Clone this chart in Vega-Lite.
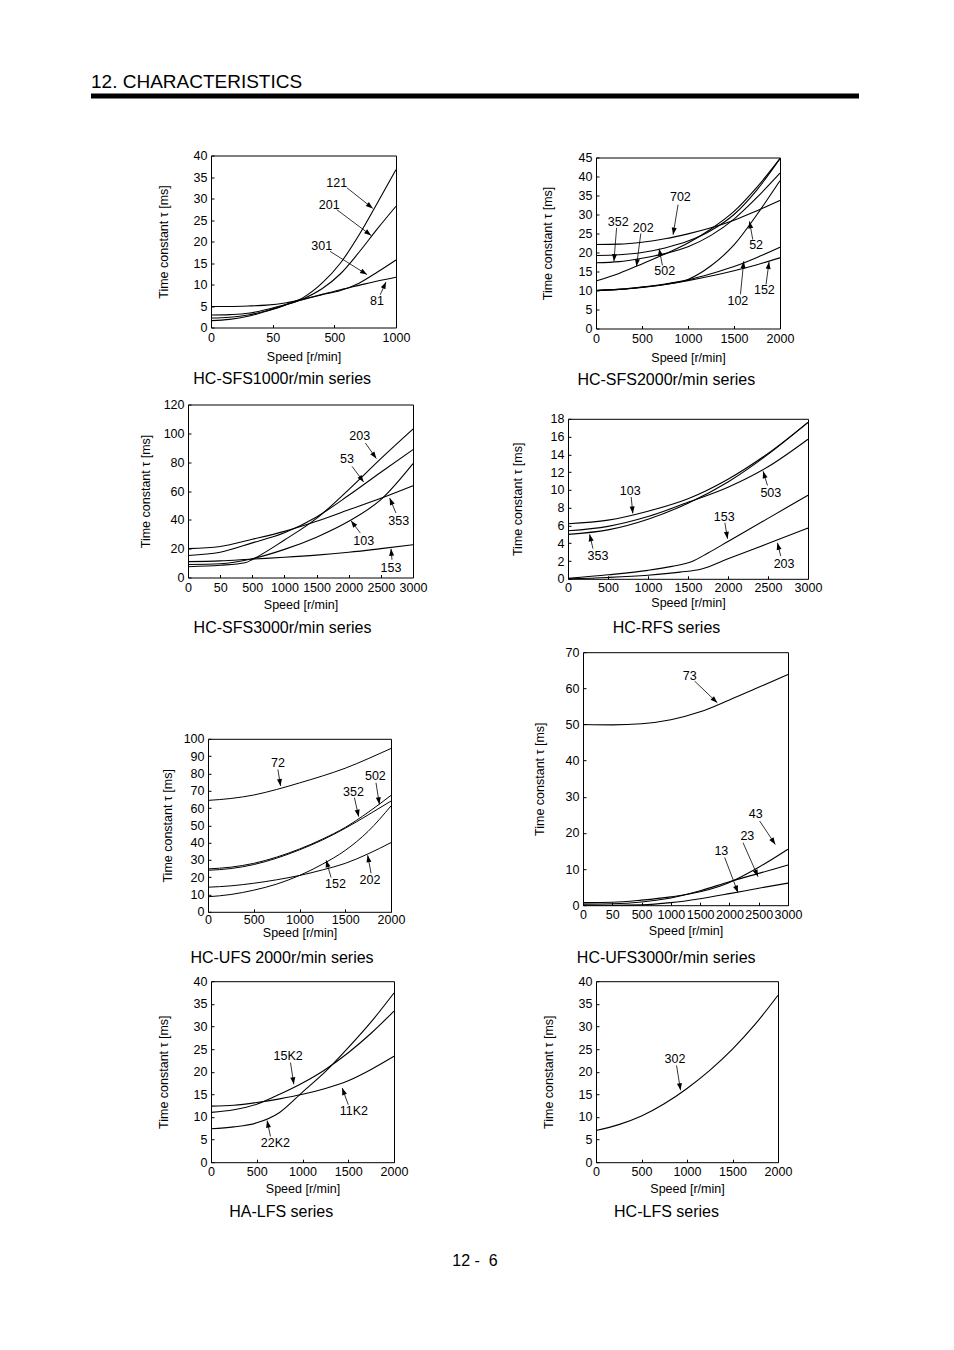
{
"$schema": "https://vega.github.io/schema/vega-lite/v6.json",
"background": "white",
"padding": {"left": 91, "top": 72.5, "right": 5, "bottom": 5},
"config": {
  "font": "Liberation Sans",
  "view": {"stroke": "black", "strokeWidth": 1},
  "axis": {"grid": false, "ticks": false, "tickSize": 0, "domain": false, "labelFont": "Liberation Sans", "labelFontSize": 12.5, "labelColor": "black", "titleFont": "Liberation Sans", "titleFontSize": 12.5, "titleFontWeight": "normal", "titleColor": "black", "labelPadding": 4, "labelFlush": false, "labelOverlap": false, "tickColor": "black", "tickWidth": 1},
  "title": {"font": "Liberation Sans", "fontSize": 16, "fontWeight": "normal", "color": "black"},
  "text": {"font": "Liberation Sans", "fontSize": 12.5, "color": "black"}
},
"title": {"text": "12 -\u00a0 6", "orient": "bottom", "anchor": "middle", "fontSize": 16, "offset": 0},
"spacing": 0,
"datasets": {
"p1c": [
{"m":"121","s":0,"t":1.6},{"m":"121","s":15,"t":1.9},{"m":"121","s":30,"t":2.6},{"m":"121","s":45,"t":3.8},{"m":"121","s":140,"t":5.2},{"m":"121","s":275,"t":7.0},{"m":"121","s":410,"t":10.3},{"m":"121","s":550,"t":15.0},{"m":"121","s":700,"t":21.5},{"m":"121","s":850,"t":29.0},{"m":"121","s":1000,"t":36.7},
{"m":"201","s":0,"t":2.2},{"m":"201","s":15,"t":2.4},{"m":"201","s":30,"t":2.9},{"m":"201","s":45,"t":3.9},{"m":"201","s":140,"t":5.2},{"m":"201","s":275,"t":6.7},{"m":"201","s":410,"t":9.0},{"m":"201","s":550,"t":12.5},{"m":"201","s":700,"t":17.5},{"m":"201","s":850,"t":23.0},{"m":"201","s":1000,"t":28.2},
{"m":"301","s":0,"t":2.9},{"m":"301","s":15,"t":3.0},{"m":"301","s":30,"t":3.3},{"m":"301","s":45,"t":4.2},{"m":"301","s":140,"t":5.3},{"m":"301","s":275,"t":6.5},{"m":"301","s":410,"t":7.6},{"m":"301","s":550,"t":8.6},{"m":"301","s":700,"t":10.3},{"m":"301","s":850,"t":12.9},{"m":"301","s":1000,"t":15.7},
{"m":"81","s":0,"t":4.9},{"m":"81","s":15,"t":4.9},{"m":"81","s":30,"t":5.0},{"m":"81","s":45,"t":5.2},{"m":"81","s":140,"t":5.7},{"m":"81","s":275,"t":6.6},{"m":"81","s":410,"t":7.7},{"m":"81","s":550,"t":8.8},{"m":"81","s":700,"t":9.8},{"m":"81","s":850,"t":10.8},{"m":"81","s":1000,"t":11.7}
],
"p1a": [
{"label":"121","lx":520,"ly":33.6,"x1":602,"y1":32.5,"x2":812,"y2":27.7},
{"label":"201","lx":463,"ly":28.4,"x1":520,"y1":27.4,"x2":799,"y2":21.4},
{"label":"301","lx":408,"ly":18.9,"x1":469,"y1":17.7,"x2":765,"y2":12.3},
{"label":"81","lx":846,"ly":6.1,"x1":872,"y1":7.6,"x2":919,"y2":10.6}
],
"p2c": [
{"m":"702","s":0,"t":22.1},{"m":"702","s":250,"t":22.2},{"m":"702","s":500,"t":22.7},{"m":"702","s":750,"t":23.6},{"m":"702","s":1000,"t":24.9},{"m":"702","s":1250,"t":26.5},{"m":"702","s":1500,"t":28.5},{"m":"702","s":1750,"t":31.0},{"m":"702","s":2000,"t":33.7},
{"m":"352","s":0,"t":17.3},{"m":"352","s":250,"t":17.6},{"m":"352","s":500,"t":18.5},{"m":"352","s":750,"t":19.7},{"m":"352","s":1000,"t":21.5},{"m":"352","s":1250,"t":24.5},{"m":"352","s":1500,"t":28.8},{"m":"352","s":1750,"t":34.5},{"m":"352","s":2000,"t":40.9},
{"m":"502","s":0,"t":19.2},{"m":"502","s":250,"t":19.4},{"m":"502","s":500,"t":20.0},{"m":"502","s":750,"t":21.2},{"m":"502","s":1000,"t":23.0},{"m":"502","s":1250,"t":25.8},{"m":"502","s":1500,"t":30.0},{"m":"502","s":1750,"t":36.5},{"m":"502","s":2000,"t":44.7},
{"m":"202","s":0,"t":12.5},{"m":"202","s":250,"t":14.5},{"m":"202","s":500,"t":17.0},{"m":"202","s":750,"t":19.6},{"m":"202","s":1000,"t":22.5},{"m":"202","s":1250,"t":26.2},{"m":"202","s":1500,"t":30.8},{"m":"202","s":1750,"t":37.2},{"m":"202","s":2000,"t":44.7},
{"m":"52","s":0,"t":10.0},{"m":"52","s":250,"t":10.3},{"m":"52","s":500,"t":10.9},{"m":"52","s":750,"t":11.6},{"m":"52","s":1000,"t":12.9},{"m":"52","s":1250,"t":16.5},{"m":"52","s":1500,"t":22.0},{"m":"52","s":1750,"t":30.0},{"m":"52","s":2000,"t":38.9},
{"m":"102","s":0,"t":10.0},{"m":"102","s":250,"t":10.3},{"m":"102","s":500,"t":10.9},{"m":"102","s":750,"t":11.7},{"m":"102","s":1000,"t":12.8},{"m":"102","s":1250,"t":14.4},{"m":"102","s":1500,"t":16.3},{"m":"102","s":1750,"t":18.7},{"m":"102","s":2000,"t":21.4},
{"m":"152","s":0,"t":10.0},{"m":"152","s":250,"t":10.3},{"m":"152","s":500,"t":10.8},{"m":"152","s":750,"t":11.6},{"m":"152","s":1000,"t":12.6},{"m":"152","s":1250,"t":13.8},{"m":"152","s":1500,"t":15.2},{"m":"152","s":1750,"t":16.8},{"m":"152","s":2000,"t":18.6}
],
"p2a": [
{"label":"702","lx":917,"ly":34.5,"x1":892,"y1":32.6,"x2":838,"y2":24.7},
{"label":"352","lx":242,"ly":28.0,"x1":224,"y1":26.5,"x2":195,"y2":17.7},
{"label":"202","lx":513,"ly":26.5,"x1":487,"y1":25.0,"x2":440,"y2":16.4},
{"label":"502","lx":747,"ly":15.1,"x1":722,"y1":16.6,"x2":686,"y2":21.0},
{"label":"52","lx":1740,"ly":21.9,"x1":1704,"y1":23.4,"x2":1668,"y2":28.2},
{"label":"102","lx":1542,"ly":7.3,"x1":1570,"y1":9.0,"x2":1606,"y2":17.7},
{"label":"152","lx":1830,"ly":10.1,"x1":1848,"y1":11.6,"x2":1881,"y2":17.5}
],
"p3c": [
{"m":"203","s":0,"t":7.5},{"m":"203","s":50,"t":8.5},{"m":"203","s":400,"t":10.2},{"m":"203","s":500,"t":12.5},{"m":"203","s":1000,"t":26},{"m":"203","s":1500,"t":41},{"m":"203","s":2000,"t":61},{"m":"203","s":2500,"t":82.5},{"m":"203","s":3000,"t":103},
{"m":"53","s":0,"t":15.3},{"m":"53","s":50,"t":17.5},{"m":"53","s":500,"t":24},{"m":"53","s":1000,"t":31},{"m":"53","s":1500,"t":42},{"m":"53","s":2000,"t":57},{"m":"53","s":2500,"t":73},{"m":"53","s":3000,"t":88.7},
{"m":"353","s":0,"t":20},{"m":"353","s":50,"t":21.5},{"m":"353","s":500,"t":26.5},{"m":"353","s":1000,"t":32},{"m":"353","s":1500,"t":39},{"m":"353","s":2000,"t":47},{"m":"353","s":2500,"t":55},{"m":"353","s":3000,"t":63.7},
{"m":"103","s":0,"t":9},{"m":"103","s":50,"t":9.5},{"m":"103","s":500,"t":13},{"m":"103","s":1000,"t":19.5},{"m":"103","s":1500,"t":28},{"m":"103","s":2000,"t":39},{"m":"103","s":2500,"t":54},{"m":"103","s":3000,"t":79},
{"m":"153","s":0,"t":11},{"m":"153","s":50,"t":11.5},{"m":"153","s":500,"t":12.8},{"m":"153","s":1000,"t":14},{"m":"153","s":1500,"t":15.5},{"m":"153","s":2000,"t":17.5},{"m":"153","s":2500,"t":20},{"m":"153","s":3000,"t":22.7}
],
"p3a": [
{"label":"203","lx":2170,"ly":98.4,"x1":2259,"y1":93.3,"x2":2430,"y2":82.5},
{"label":"53","lx":1974,"ly":82.5,"x1":2052,"y1":77.1,"x2":2233,"y2":66.2},
{"label":"353","lx":2777,"ly":39.4,"x1":2735,"y1":44.7,"x2":2637,"y2":55.1},
{"label":"103","lx":2233,"ly":25.5,"x1":2181,"y1":30.8,"x2":2036,"y2":39.4},
{"label":"153","lx":2658,"ly":6.9,"x1":2673,"y1":12.3,"x2":2658,"y2":19.9}
],
"p4c": [
{"m":"103","s":0,"t":6.2},{"m":"103","s":500,"t":6.6},{"m":"103","s":1000,"t":7.6},{"m":"103","s":1500,"t":9.0},{"m":"103","s":2000,"t":11.2},{"m":"103","s":2500,"t":14.1},{"m":"103","s":3000,"t":17.6},
{"m":"353","s":0,"t":5.0},{"m":"353","s":500,"t":5.5},{"m":"353","s":1000,"t":6.7},{"m":"353","s":1500,"t":8.5},{"m":"353","s":2000,"t":10.9},{"m":"353","s":2500,"t":14.0},{"m":"353","s":3000,"t":17.6},
{"m":"503","s":0,"t":5.4},{"m":"503","s":500,"t":5.9},{"m":"503","s":1000,"t":7.0},{"m":"503","s":1500,"t":8.6},{"m":"503","s":2000,"t":10.3},{"m":"503","s":2500,"t":12.6},{"m":"503","s":3000,"t":15.7},
{"m":"153","s":0,"t":0.05},{"m":"153","s":500,"t":0.45},{"m":"153","s":1000,"t":0.95},{"m":"153","s":1300,"t":1.4},{"m":"153","s":1550,"t":1.95},{"m":"153","s":1750,"t":2.9},{"m":"153","s":2000,"t":4.2},{"m":"153","s":2500,"t":6.8},{"m":"153","s":3000,"t":9.4},
{"m":"203","s":0,"t":0},{"m":"203","s":500,"t":0.15},{"m":"203","s":1000,"t":0.4},{"m":"203","s":1400,"t":0.75},{"m":"203","s":1670,"t":1.1},{"m":"203","s":2000,"t":2.25},{"m":"203","s":2500,"t":3.97},{"m":"203","s":3000,"t":5.7}
],
"p4a": [
{"label":"103","lx":777,"ly":9.86,"x1":790,"y1":9.2,"x2":810,"y2":7.35},
{"label":"353","lx":374,"ly":2.6,"x1":312,"y1":3.4,"x2":270,"y2":5.0},
{"label":"503","lx":2535,"ly":9.7,"x1":2493,"y1":10.5,"x2":2439,"y2":12.1},
{"label":"153","lx":1953,"ly":7.0,"x1":1961,"y1":6.3,"x2":1994,"y2":4.5},
{"label":"203","lx":2701,"ly":1.72,"x1":2659,"y1":2.55,"x2":2618,"y2":4.05}
],
"p5c": [
{"m":"72","s":0,"t":64.4},{"m":"72","s":250,"t":65.5},{"m":"72","s":500,"t":67.5},{"m":"72","s":750,"t":70.7},{"m":"72","s":1000,"t":74.5},{"m":"72","s":1250,"t":78.5},{"m":"72","s":1500,"t":83},{"m":"72","s":1750,"t":88.5},{"m":"72","s":2000,"t":94.4},
{"m":"352","s":0,"t":24},{"m":"352","s":250,"t":25},{"m":"352","s":500,"t":27.3},{"m":"352","s":750,"t":31},{"m":"352","s":1000,"t":35.8},{"m":"352","s":1250,"t":41.5},{"m":"352","s":1500,"t":48.3},{"m":"352","s":1750,"t":56},{"m":"352","s":2000,"t":64},
{"m":"502","s":0,"t":24.8},{"m":"502","s":250,"t":25.8},{"m":"502","s":500,"t":28},{"m":"502","s":750,"t":31.6},{"m":"502","s":1000,"t":36.3},{"m":"502","s":1250,"t":42},{"m":"502","s":1500,"t":48.8},{"m":"502","s":1750,"t":57.5},{"m":"502","s":2000,"t":67.3},
{"m":"152","s":0,"t":8.7},{"m":"152","s":250,"t":10},{"m":"152","s":500,"t":12.5},{"m":"152","s":750,"t":16},{"m":"152","s":1000,"t":21},{"m":"152","s":1250,"t":27.5},{"m":"152","s":1500,"t":35.5},{"m":"152","s":1750,"t":46.5},{"m":"152","s":2000,"t":61.2},
{"m":"202","s":0,"t":14.2},{"m":"202","s":250,"t":15},{"m":"202","s":500,"t":16.5},{"m":"202","s":750,"t":18.5},{"m":"202","s":1000,"t":21},{"m":"202","s":1250,"t":24.2},{"m":"202","s":1500,"t":28},{"m":"202","s":1750,"t":33.5},{"m":"202","s":2000,"t":40}
],
"p5a": [
{"label":"72","lx":764,"ly":86.2,"x1":764,"y1":82.3,"x2":793,"y2":72.7},
{"label":"352","lx":1589,"ly":69.2,"x1":1600,"y1":66,"x2":1647,"y2":55},
{"label":"502","lx":1829,"ly":78.5,"x1":1836,"y1":74.6,"x2":1873,"y2":62.1},
{"label":"152","lx":1393,"ly":16,"x1":1345,"y1":19.8,"x2":1291,"y2":29.8},
{"label":"202","lx":1771,"ly":18.5,"x1":1782,"y1":22.3,"x2":1745,"y2":32.7}
],
"p6c": [
{"m":"73","s":0,"t":50},{"m":"73","s":50,"t":49.9},{"m":"73","s":500,"t":50.2},{"m":"73","s":1000,"t":51.3},{"m":"73","s":1500,"t":53.5},{"m":"73","s":2000,"t":56.8},{"m":"73","s":2500,"t":60.3},{"m":"73","s":3000,"t":63.8},
{"m":"43","s":0,"t":0.7},{"m":"43","s":50,"t":0.8},{"m":"43","s":500,"t":1.4},{"m":"43","s":1000,"t":2.3},{"m":"43","s":1500,"t":3.7},{"m":"43","s":2000,"t":6.3},{"m":"43","s":2500,"t":10.5},{"m":"43","s":3000,"t":15.5},
{"m":"23","s":0,"t":0.3},{"m":"23","s":50,"t":0.4},{"m":"23","s":500,"t":0.9},{"m":"23","s":1000,"t":2.0},{"m":"23","s":1500,"t":4.0},{"m":"23","s":2000,"t":6.5},{"m":"23","s":2500,"t":8.8},{"m":"23","s":3000,"t":11.1},
{"m":"13","s":0,"t":0},{"m":"13","s":50,"t":0},{"m":"13","s":500,"t":0.1},{"m":"13","s":1000,"t":0.7},{"m":"13","s":1500,"t":1.8},{"m":"13","s":2000,"t":3.2},{"m":"13","s":2500,"t":4.7},{"m":"13","s":3000,"t":6.1}
],
"p6a": [
{"label":"73","lx":1321,"ly":63.4,"x1":1406,"y1":62,"x2":1793,"y2":56},
{"label":"43","lx":2449,"ly":25.1,"x1":2516,"y1":23.3,"x2":2783,"y2":16.8},
{"label":"23","lx":2306,"ly":19.2,"x1":2232,"y1":17.3,"x2":2488,"y2":7.9},
{"label":"13","lx":1862,"ly":15,"x1":1919,"y1":13.2,"x2":2146,"y2":3.5}
],
"p7c": [
{"m":"22K2","s":0,"t":7.4},{"m":"22K2","s":250,"t":7.8},{"m":"22K2","s":500,"t":8.7},{"m":"22K2","s":750,"t":11.0},{"m":"22K2","s":1000,"t":15.5},{"m":"22K2","s":1250,"t":20},{"m":"22K2","s":1500,"t":25.3},{"m":"22K2","s":1750,"t":31},{"m":"22K2","s":2000,"t":37.4},
{"m":"15K2","s":0,"t":11},{"m":"15K2","s":250,"t":11.6},{"m":"15K2","s":500,"t":12.8},{"m":"15K2","s":750,"t":15},{"m":"15K2","s":1000,"t":17.5},{"m":"15K2","s":1250,"t":20.5},{"m":"15K2","s":1500,"t":24.2},{"m":"15K2","s":1750,"t":28.5},{"m":"15K2","s":2000,"t":33.4},
{"m":"11K2","s":0,"t":12.4},{"m":"11K2","s":250,"t":12.6},{"m":"11K2","s":500,"t":13.2},{"m":"11K2","s":750,"t":14},{"m":"11K2","s":1000,"t":15},{"m":"11K2","s":1250,"t":16.3},{"m":"11K2","s":1500,"t":18},{"m":"11K2","s":1750,"t":20.5},{"m":"11K2","s":2000,"t":23.4}
],
"p7a": [
{"label":"15K2","lx":843,"ly":23.4,"x1":869,"y1":22,"x2":905,"y2":17.2},
{"label":"11K2","lx":1562,"ly":11.3,"x1":1500,"y1":12.7,"x2":1434,"y2":16.4},
{"label":"22K2","lx":704,"ly":4.3,"x1":650,"y1":5.7,"x2":613,"y2":9.2}
],
"p8c": [
{"m":"302","s":0,"t":7.0},{"m":"302","s":250,"t":8.3},{"m":"302","s":500,"t":10.2},{"m":"302","s":750,"t":12.9},{"m":"302","s":1000,"t":16.3},{"m":"302","s":1250,"t":20.3},{"m":"302","s":1500,"t":25.0},{"m":"302","s":1750,"t":30.5},{"m":"302","s":2000,"t":36.9}
],
"p8a": [
{"label":"302","lx":867,"ly":22.9,"x1":885,"y1":21.4,"x2":929,"y2":15.9}
]
},
"vconcat": [
{
  "width": 768, "height": 5,
  "view": {"fill": "black", "stroke": null},
  "title": {"text": "12. CHARACTERISTICS", "anchor": "start", "frame": "group", "fontSize": 19, "offset": 2},
  "data": {"values": []},
  "mark": "point"
},
{"spacing": 0, "hconcat": [
{"width": 59, "height": 289.5, "view": {"stroke": null}, "data": {"values": []}, "mark": "point"},
{"spacing": 45, "vconcat": [
{"width": 1, "height": 1, "view": {"stroke": null}, "data": {"values": []}, "mark": "point"},
{
  "width": 185, "height": 172,
  "title": {"text": "HC-SFS1000r/min series", "orient": "bottom", "anchor": "middle", "frame": "group", "dx": -21.3, "offset": 8.2},
  "resolve": {"axis": {"x": "independent"}},
  "layer": [
    {"data": {"name": "p1c"}, "mark": {"type": "line", "interpolate": "monotone", "color": "black", "strokeWidth": 1.1},
     "encoding": {
       "x": {"field": "s", "type": "quantitative", "scale": {"domain": [0, 50, 500, 1000], "range": [0, 61.67, 123.33, 185]}, "axis": {"values": [0, 50, 500, 1000], "format": "d", "title": "Speed [r/min]", "labelPadding": 6.5, "titlePadding": 6.5, "ticks": true, "tickSize": -3}},
       "y": {"field": "t", "type": "quantitative", "scale": {"domain": [0, 40]}, "axis": {"values": [0, 5, 10, 15, 20, 25, 30, 35, 40], "title": "Time constant τ [ms]", "titlePadding": 23, "ticks": true, "tickSize": -3, "labelPadding": 7}},
       "detail": {"field": "m"}}},
    {"data": {"name": "p1a"}, "mark": {"type": "rule", "color": "black", "strokeWidth": 0.8},
     "encoding": {"x": {"field": "x1", "type": "quantitative", "axis": null}, "y": {"field": "y1", "type": "quantitative", "axis": {"values": [0, 5, 10, 15, 20, 25, 30, 35, 40], "title": "Time constant τ [ms]", "titlePadding": 23, "ticks": true, "tickSize": -3, "labelPadding": 7}}, "x2": {"field": "x2"}, "y2": {"field": "y2"}}},
    {"data": {"name": "p1a"}, "transform": [{"calculate": "atan2((datum.x2-datum.x1)*0.1233,(datum.y2-datum.y1)*4.3)*180/PI", "as": "ang"}],
     "mark": {"type": "point", "shape": "M0,0L-0.36,1L0.36,1Z", "filled": true, "color": "black", "opacity": 1, "size": 196},
     "encoding": {"x": {"field": "x2", "type": "quantitative", "axis": null}, "y": {"field": "y2", "type": "quantitative", "axis": {"values": [0, 5, 10, 15, 20, 25, 30, 35, 40], "title": "Time constant τ [ms]", "titlePadding": 23, "ticks": true, "tickSize": -3, "labelPadding": 7}}, "angle": {"field": "ang", "type": "quantitative", "scale": null}}},
    {"data": {"name": "p1a"}, "mark": {"type": "text", "fontSize": 12.5},
     "encoding": {"x": {"field": "lx", "type": "quantitative", "axis": {"orient": "top", "labels": false, "title": ".", "titleFontSize": 2, "titleOpacity": 0, "titleX": -60, "titleY": -10, "titleAlign": "left", "titleBaseline": "top", "titleAngle": 0}},
       "y": {"field": "ly", "type": "quantitative", "axis": {"values": [0, 5, 10, 15, 20, 25, 30, 35, 40], "title": "Time constant τ [ms]", "titlePadding": 23, "ticks": true, "tickSize": -3, "labelPadding": 7}}, "text": {"field": "label"}}}
  ]
}
]},
{"width": 123.1, "height": 1, "view": {"stroke": null}, "data": {"values": []}, "mark": "point"},
{"spacing": 47, "vconcat": [
{"width": 1, "height": 1, "view": {"stroke": null}, "data": {"values": []}, "mark": "point"},
{
  "width": 184, "height": 171,
  "title": {"text": "HC-SFS2000r/min series", "orient": "bottom", "anchor": "middle", "frame": "group", "dx": -21.7, "offset": 8.2},
  "resolve": {"axis": {"x": "independent"}},
  "layer": [
    {"data": {"name": "p2c"}, "mark": {"type": "line", "interpolate": "monotone", "color": "black", "strokeWidth": 1.1},
     "encoding": {
       "x": {"field": "s", "type": "quantitative", "scale": {"domain": [0, 2000]}, "axis": {"values": [0, 500, 1000, 1500, 2000], "format": "d", "title": "Speed [r/min]", "labelPadding": 6.5, "titlePadding": 6.5, "ticks": true, "tickSize": -3}},
       "y": {"field": "t", "type": "quantitative", "scale": {"domain": [0, 45]}, "axis": {"values": [0, 5, 10, 15, 20, 25, 30, 35, 40, 45], "title": "Time constant τ [ms]", "titlePadding": 23.4, "ticks": true, "tickSize": -3, "labelPadding": 7}},
       "detail": {"field": "m"}}},
    {"data": {"name": "p2a"}, "mark": {"type": "rule", "color": "black", "strokeWidth": 0.8},
     "encoding": {"x": {"field": "x1", "type": "quantitative", "axis": null}, "y": {"field": "y1", "type": "quantitative", "axis": {"values": [0, 5, 10, 15, 20, 25, 30, 35, 40, 45], "title": "Time constant τ [ms]", "titlePadding": 23.4, "ticks": true, "tickSize": -3, "labelPadding": 7}}, "x2": {"field": "x2"}, "y2": {"field": "y2"}}},
    {"data": {"name": "p2a"}, "transform": [{"calculate": "atan2((datum.x2-datum.x1)*0.092,(datum.y2-datum.y1)*3.8)*180/PI", "as": "ang"}],
     "mark": {"type": "point", "shape": "M0,0L-0.36,1L0.36,1Z", "filled": true, "color": "black", "opacity": 1, "size": 196},
     "encoding": {"x": {"field": "x2", "type": "quantitative", "axis": null}, "y": {"field": "y2", "type": "quantitative", "axis": {"values": [0, 5, 10, 15, 20, 25, 30, 35, 40, 45], "title": "Time constant τ [ms]", "titlePadding": 23.4, "ticks": true, "tickSize": -3, "labelPadding": 7}}, "angle": {"field": "ang", "type": "quantitative", "scale": null}}},
    {"data": {"name": "p2a"}, "mark": {"type": "text", "fontSize": 12.5},
     "encoding": {"x": {"field": "lx", "type": "quantitative", "axis": {"orient": "top", "labels": false, "title": ".", "titleFontSize": 2, "titleOpacity": 0, "titleX": -60, "titleY": -10, "titleAlign": "left", "titleBaseline": "top", "titleAngle": 0}},
       "y": {"field": "ly", "type": "quantitative", "axis": {"values": [0, 5, 10, 15, 20, 25, 30, 35, 40, 45], "title": "Time constant τ [ms]", "titlePadding": 23.4, "ticks": true, "tickSize": -3, "labelPadding": 7}}, "text": {"field": "label"}}}
  ]
}
]}
]},
{"spacing": 0, "hconcat": [
{"width": 35.7, "height": 250, "view": {"stroke": null}, "data": {"values": []}, "mark": "point"},
{"spacing": 4, "vconcat": [
{"width": 1, "height": 1, "view": {"stroke": null}, "data": {"values": []}, "mark": "point"},
{
  "width": 225, "height": 173,
  "title": {"text": "HC-SFS3000r/min series", "orient": "bottom", "anchor": "middle", "frame": "group", "dx": -18, "offset": 9.7},
  "resolve": {"axis": {"x": "independent"}},
  "layer": [
    {"data": {"name": "p3c"}, "mark": {"type": "line", "interpolate": "monotone", "color": "black", "strokeWidth": 1.1},
     "encoding": {
       "x": {"field": "s", "type": "quantitative", "scale": {"domain": [0, 50, 500, 3000], "range": [0, 32.14, 64.29, 225]}, "axis": {"values": [0, 50, 500, 1000, 1500, 2000, 2500, 3000], "format": "d", "title": "Speed [r/min]", "labelPadding": 6.5, "titlePadding": 4.5, "ticks": true, "tickSize": -3}},
       "y": {"field": "t", "type": "quantitative", "scale": {"domain": [0, 120]}, "axis": {"values": [0, 20, 40, 60, 80, 100, 120], "title": "Time constant τ [ms]", "titlePadding": 10.5, "ticks": true, "tickSize": -3, "labelPadding": 7}},
       "detail": {"field": "m"}}},
    {"data": {"name": "p3a"}, "mark": {"type": "rule", "color": "black", "strokeWidth": 0.8},
     "encoding": {"x": {"field": "x1", "type": "quantitative", "axis": null}, "y": {"field": "y1", "type": "quantitative", "axis": {"values": [0, 20, 40, 60, 80, 100, 120], "title": "Time constant τ [ms]", "titlePadding": 10.5, "ticks": true, "tickSize": -3, "labelPadding": 7}}, "x2": {"field": "x2"}, "y2": {"field": "y2"}}},
    {"data": {"name": "p3a"}, "transform": [{"calculate": "atan2((datum.x2-datum.x1)*0.06429,(datum.y2-datum.y1)*1.4417)*180/PI", "as": "ang"}],
     "mark": {"type": "point", "shape": "M0,0L-0.36,1L0.36,1Z", "filled": true, "color": "black", "opacity": 1, "size": 196},
     "encoding": {"x": {"field": "x2", "type": "quantitative", "axis": null}, "y": {"field": "y2", "type": "quantitative", "axis": {"values": [0, 20, 40, 60, 80, 100, 120], "title": "Time constant τ [ms]", "titlePadding": 10.5, "ticks": true, "tickSize": -3, "labelPadding": 7}}, "angle": {"field": "ang", "type": "quantitative", "scale": null}}},
    {"data": {"name": "p3a"}, "mark": {"type": "text", "fontSize": 12.5},
     "encoding": {"x": {"field": "lx", "type": "quantitative", "axis": {"orient": "top", "labels": false, "title": ".", "titleFontSize": 2, "titleOpacity": 0, "titleX": -60, "titleY": -10, "titleAlign": "left", "titleBaseline": "top", "titleAngle": 0}},
       "y": {"field": "ly", "type": "quantitative", "axis": {"values": [0, 20, 40, 60, 80, 100, 120], "title": "Time constant τ [ms]", "titlePadding": 10.5, "ticks": true, "tickSize": -3, "labelPadding": 7}}, "text": {"field": "label"}}}
  ]
}
]},
{"width": 78.1, "height": 1, "view": {"stroke": null}, "data": {"values": []}, "mark": "point"},
{"spacing": 18.3, "vconcat": [
{"width": 1, "height": 1, "view": {"stroke": null}, "data": {"values": []}, "mark": "point"},
{
  "width": 240, "height": 160,
  "title": {"text": "HC-RFS series", "orient": "bottom", "anchor": "middle", "frame": "group", "dx": -21.5, "offset": 10.7},
  "resolve": {"axis": {"x": "independent"}},
  "layer": [
    {"data": {"name": "p4c"}, "mark": {"type": "line", "interpolate": "monotone", "color": "black", "strokeWidth": 1.1},
     "encoding": {
       "x": {"field": "s", "type": "quantitative", "scale": {"domain": [0, 3000]}, "axis": {"values": [0, 500, 1000, 1500, 2000, 2500, 3000], "format": "d", "title": "Speed [r/min]", "labelPadding": 5.5, "titlePadding": 2.5, "ticks": true, "tickSize": -3}},
       "y": {"field": "t", "type": "quantitative", "scale": {"domain": [0, 18]}, "axis": {"values": [0, 2, 4, 6, 8, 10, 12, 14, 16, 18], "title": "Time constant τ [ms]", "titlePadding": 25.1, "ticks": true, "tickSize": -3, "labelPadding": 7}},
       "detail": {"field": "m"}}},
    {"data": {"name": "p4a"}, "mark": {"type": "rule", "color": "black", "strokeWidth": 0.8},
     "encoding": {"x": {"field": "x1", "type": "quantitative", "axis": null}, "y": {"field": "y1", "type": "quantitative", "axis": {"values": [0, 2, 4, 6, 8, 10, 12, 14, 16, 18], "title": "Time constant τ [ms]", "titlePadding": 25.1, "ticks": true, "tickSize": -3, "labelPadding": 7}}, "x2": {"field": "x2"}, "y2": {"field": "y2"}}},
    {"data": {"name": "p4a"}, "transform": [{"calculate": "atan2((datum.x2-datum.x1)*0.08,(datum.y2-datum.y1)*8.889)*180/PI", "as": "ang"}],
     "mark": {"type": "point", "shape": "M0,0L-0.36,1L0.36,1Z", "filled": true, "color": "black", "opacity": 1, "size": 196},
     "encoding": {"x": {"field": "x2", "type": "quantitative", "axis": null}, "y": {"field": "y2", "type": "quantitative", "axis": {"values": [0, 2, 4, 6, 8, 10, 12, 14, 16, 18], "title": "Time constant τ [ms]", "titlePadding": 25.1, "ticks": true, "tickSize": -3, "labelPadding": 7}}, "angle": {"field": "ang", "type": "quantitative", "scale": null}}},
    {"data": {"name": "p4a"}, "mark": {"type": "text", "fontSize": 12.5},
     "encoding": {"x": {"field": "lx", "type": "quantitative", "axis": {"orient": "top", "labels": false, "title": ".", "titleFontSize": 2, "titleOpacity": 0, "titleX": -60, "titleY": -10, "titleAlign": "left", "titleBaseline": "top", "titleAngle": 0}},
       "y": {"field": "ly", "type": "quantitative", "axis": {"values": [0, 2, 4, 6, 8, 10, 12, 14, 16, 18], "title": "Time constant τ [ms]", "titlePadding": 25.1, "ticks": true, "tickSize": -3, "labelPadding": 7}}, "text": {"field": "label"}}}
  ]
}
]}
]},
{"spacing": 0, "hconcat": [
{"width": 55.3, "height": 330, "view": {"stroke": null}, "data": {"values": []}, "mark": "point"},
{"spacing": 88.3, "vconcat": [
{"width": 1, "height": 1, "view": {"stroke": null}, "data": {"values": []}, "mark": "point"},
{
  "width": 183, "height": 173,
  "title": {"text": "HC-UFS 2000r/min series", "orient": "bottom", "anchor": "middle", "frame": "group", "dx": -17.5, "offset": 10.7},
  "resolve": {"axis": {"x": "independent"}},
  "layer": [
    {"data": {"name": "p5c"}, "mark": {"type": "line", "interpolate": "monotone", "color": "black", "strokeWidth": 1},
     "encoding": {
       "x": {"field": "s", "type": "quantitative", "scale": {"domain": [0, 2000]}, "axis": {"values": [0, 500, 1000, 1500, 2000], "format": "d", "title": "Speed [r/min]", "labelPadding": 4.5, "titlePadding": 1, "ticks": true, "tickSize": -3}},
       "y": {"field": "t", "type": "quantitative", "scale": {"domain": [0, 100]}, "axis": {"values": [0, 10, 20, 30, 40, 50, 60, 70, 80, 90, 100], "title": "Time constant τ [ms]", "titlePadding": 8.65, "ticks": true, "tickSize": -3, "labelPadding": 7}},
       "detail": {"field": "m"}}},
    {"data": {"name": "p5a"}, "mark": {"type": "rule", "color": "black", "strokeWidth": 0.8},
     "encoding": {"x": {"field": "x1", "type": "quantitative", "axis": null}, "y": {"field": "y1", "type": "quantitative", "axis": {"values": [0, 10, 20, 30, 40, 50, 60, 70, 80, 90, 100], "title": "Time constant τ [ms]", "titlePadding": 8.65, "ticks": true, "tickSize": -3, "labelPadding": 7}}, "x2": {"field": "x2"}, "y2": {"field": "y2"}}},
    {"data": {"name": "p5a"}, "transform": [{"calculate": "atan2((datum.x2-datum.x1)*0.0915,(datum.y2-datum.y1)*1.73)*180/PI", "as": "ang"}],
     "mark": {"type": "point", "shape": "M0,0L-0.36,1L0.36,1Z", "filled": true, "color": "black", "opacity": 1, "size": 196},
     "encoding": {"x": {"field": "x2", "type": "quantitative", "axis": null}, "y": {"field": "y2", "type": "quantitative", "axis": {"values": [0, 10, 20, 30, 40, 50, 60, 70, 80, 90, 100], "title": "Time constant τ [ms]", "titlePadding": 8.65, "ticks": true, "tickSize": -3, "labelPadding": 7}}, "angle": {"field": "ang", "type": "quantitative", "scale": null}}},
    {"data": {"name": "p5a"}, "mark": {"type": "text", "fontSize": 12.5},
     "encoding": {"x": {"field": "lx", "type": "quantitative", "axis": {"orient": "top", "labels": false, "title": ".", "titleFontSize": 2, "titleOpacity": 0, "titleX": -60, "titleY": -10, "titleAlign": "left", "titleBaseline": "top", "titleAngle": 0}},
       "y": {"field": "ly", "type": "quantitative", "axis": {"values": [0, 10, 20, 30, 40, 50, 60, 70, 80, 90, 100], "title": "Time constant τ [ms]", "titlePadding": 8.65, "ticks": true, "tickSize": -3, "labelPadding": 7}}, "text": {"field": "label"}}}
  ]
}
]},
{"width": 115.8, "height": 1, "view": {"stroke": null}, "data": {"values": []}, "mark": "point"},
{"spacing": 1.7, "vconcat": [
{"width": 1, "height": 1, "view": {"stroke": null}, "data": {"values": []}, "mark": "point"},
{
  "width": 205, "height": 253,
  "title": {"text": "HC-UFS3000r/min series", "orient": "bottom", "anchor": "middle", "frame": "group", "dx": -19.3, "offset": 13.2},
  "resolve": {"axis": {"x": "independent"}},
  "layer": [
    {"data": {"name": "p6c"}, "mark": {"type": "line", "interpolate": "monotone", "color": "black", "strokeWidth": 1.1},
     "encoding": {
       "x": {"field": "s", "type": "quantitative", "scale": {"domain": [0, 50, 500, 3000], "range": [0, 29.29, 58.57, 205]}, "axis": {"values": [0, 50, 500, 1000, 1500, 2000, 2500, 3000], "format": "d", "title": "Speed [r/min]", "labelPadding": 6, "titlePadding": 4, "ticks": true, "tickSize": -3}},
       "y": {"field": "t", "type": "quantitative", "scale": {"domain": [0, 70]}, "axis": {"values": [0, 10, 20, 30, 40, 50, 60, 70], "title": "Time constant τ [ms]", "titlePadding": 18.7, "ticks": true, "tickSize": -3, "labelPadding": 7}},
       "detail": {"field": "m"}}},
    {"data": {"name": "p6a"}, "mark": {"type": "rule", "color": "black", "strokeWidth": 0.8},
     "encoding": {"x": {"field": "x1", "type": "quantitative", "axis": null}, "y": {"field": "y1", "type": "quantitative", "axis": {"values": [0, 10, 20, 30, 40, 50, 60, 70], "title": "Time constant τ [ms]", "titlePadding": 18.7, "ticks": true, "tickSize": -3, "labelPadding": 7}}, "x2": {"field": "x2"}, "y2": {"field": "y2"}}},
    {"data": {"name": "p6a"}, "transform": [{"calculate": "atan2((datum.x2-datum.x1)*0.05857,(datum.y2-datum.y1)*3.614)*180/PI", "as": "ang"}],
     "mark": {"type": "point", "shape": "M0,0L-0.36,1L0.36,1Z", "filled": true, "color": "black", "opacity": 1, "size": 196},
     "encoding": {"x": {"field": "x2", "type": "quantitative", "axis": null}, "y": {"field": "y2", "type": "quantitative", "axis": {"values": [0, 10, 20, 30, 40, 50, 60, 70], "title": "Time constant τ [ms]", "titlePadding": 18.7, "ticks": true, "tickSize": -3, "labelPadding": 7}}, "angle": {"field": "ang", "type": "quantitative", "scale": null}}},
    {"data": {"name": "p6a"}, "mark": {"type": "text", "fontSize": 12.5},
     "encoding": {"x": {"field": "lx", "type": "quantitative", "axis": {"orient": "top", "labels": false, "title": ".", "titleFontSize": 2, "titleOpacity": 0, "titleX": -60, "titleY": -10, "titleAlign": "left", "titleBaseline": "top", "titleAngle": 0}},
       "y": {"field": "ly", "type": "quantitative", "axis": {"values": [0, 10, 20, 30, 40, 50, 60, 70], "title": "Time constant τ [ms]", "titlePadding": 18.7, "ticks": true, "tickSize": -3, "labelPadding": 7}}, "text": {"field": "label"}}}
  ]
}
]}
]},
{"spacing": 0, "hconcat": [
{"width": 58.3, "height": 284.1, "view": {"stroke": null}, "data": {"values": []}, "mark": "point"},
{"spacing": 0.7, "vconcat": [
{"width": 1, "height": 1, "view": {"stroke": null}, "data": {"values": []}, "mark": "point"},
{
  "width": 183, "height": 181,
  "title": {"text": "HA-LFS series", "orient": "bottom", "anchor": "middle", "frame": "group", "dx": -21.3, "offset": 9.7},
  "resolve": {"axis": {"x": "independent"}},
  "layer": [
    {"data": {"name": "p7c"}, "mark": {"type": "line", "interpolate": "monotone", "color": "black", "strokeWidth": 1.1},
     "encoding": {
       "x": {"field": "s", "type": "quantitative", "scale": {"domain": [0, 2000]}, "axis": {"values": [0, 500, 1000, 1500, 2000], "format": "d", "title": "Speed [r/min]", "labelPadding": 6, "titlePadding": 4.5, "ticks": true, "tickSize": -3}},
       "y": {"field": "t", "type": "quantitative", "scale": {"domain": [0, 40]}, "axis": {"values": [0, 5, 10, 15, 20, 25, 30, 35, 40], "title": "Time constant τ [ms]", "titlePadding": 22.7, "ticks": true, "tickSize": -3, "labelPadding": 7}},
       "detail": {"field": "m"}}},
    {"data": {"name": "p7a"}, "mark": {"type": "rule", "color": "black", "strokeWidth": 0.8},
     "encoding": {"x": {"field": "x1", "type": "quantitative", "axis": null}, "y": {"field": "y1", "type": "quantitative", "axis": {"values": [0, 5, 10, 15, 20, 25, 30, 35, 40], "title": "Time constant τ [ms]", "titlePadding": 22.7, "ticks": true, "tickSize": -3, "labelPadding": 7}}, "x2": {"field": "x2"}, "y2": {"field": "y2"}}},
    {"data": {"name": "p7a"}, "transform": [{"calculate": "atan2((datum.x2-datum.x1)*0.0915,(datum.y2-datum.y1)*4.525)*180/PI", "as": "ang"}],
     "mark": {"type": "point", "shape": "M0,0L-0.36,1L0.36,1Z", "filled": true, "color": "black", "opacity": 1, "size": 196},
     "encoding": {"x": {"field": "x2", "type": "quantitative", "axis": null}, "y": {"field": "y2", "type": "quantitative", "axis": {"values": [0, 5, 10, 15, 20, 25, 30, 35, 40], "title": "Time constant τ [ms]", "titlePadding": 22.7, "ticks": true, "tickSize": -3, "labelPadding": 7}}, "angle": {"field": "ang", "type": "quantitative", "scale": null}}},
    {"data": {"name": "p7a"}, "mark": {"type": "text", "fontSize": 12.5},
     "encoding": {"x": {"field": "lx", "type": "quantitative", "axis": {"orient": "top", "labels": false, "title": ".", "titleFontSize": 2, "titleOpacity": 0, "titleX": -60, "titleY": -10, "titleAlign": "left", "titleBaseline": "top", "titleAngle": 0}},
       "y": {"field": "ly", "type": "quantitative", "axis": {"values": [0, 5, 10, 15, 20, 25, 30, 35, 40], "title": "Time constant τ [ms]", "titlePadding": 22.7, "ticks": true, "tickSize": -3, "labelPadding": 7}}, "text": {"field": "label"}}}
  ]
}
]},
{"width": 125.1, "height": 1, "view": {"stroke": null}, "data": {"values": []}, "mark": "point"},
{"spacing": 0.7, "vconcat": [
{"width": 1, "height": 1, "view": {"stroke": null}, "data": {"values": []}, "mark": "point"},
{
  "width": 182, "height": 181,
  "title": {"text": "HC-LFS series", "orient": "bottom", "anchor": "middle", "frame": "group", "dx": -20.5, "offset": 9.2},
  "resolve": {"axis": {"x": "independent"}},
  "layer": [
    {"data": {"name": "p8c"}, "mark": {"type": "line", "interpolate": "monotone", "color": "black", "strokeWidth": 1.1},
     "encoding": {
       "x": {"field": "s", "type": "quantitative", "scale": {"domain": [0, 2000]}, "axis": {"values": [0, 500, 1000, 1500, 2000], "format": "d", "title": "Speed [r/min]", "labelPadding": 6, "titlePadding": 5, "ticks": true, "tickSize": -3}},
       "y": {"field": "t", "type": "quantitative", "scale": {"domain": [0, 40]}, "axis": {"values": [0, 5, 10, 15, 20, 25, 30, 35, 40], "title": "Time constant τ [ms]", "titlePadding": 22.6, "ticks": true, "tickSize": -3, "labelPadding": 7}},
       "detail": {"field": "m"}}},
    {"data": {"name": "p8a"}, "mark": {"type": "rule", "color": "black", "strokeWidth": 0.8},
     "encoding": {"x": {"field": "x1", "type": "quantitative", "axis": null}, "y": {"field": "y1", "type": "quantitative", "axis": {"values": [0, 5, 10, 15, 20, 25, 30, 35, 40], "title": "Time constant τ [ms]", "titlePadding": 22.6, "ticks": true, "tickSize": -3, "labelPadding": 7}}, "x2": {"field": "x2"}, "y2": {"field": "y2"}}},
    {"data": {"name": "p8a"}, "transform": [{"calculate": "atan2((datum.x2-datum.x1)*0.091,(datum.y2-datum.y1)*4.525)*180/PI", "as": "ang"}],
     "mark": {"type": "point", "shape": "M0,0L-0.36,1L0.36,1Z", "filled": true, "color": "black", "opacity": 1, "size": 196},
     "encoding": {"x": {"field": "x2", "type": "quantitative", "axis": null}, "y": {"field": "y2", "type": "quantitative", "axis": {"values": [0, 5, 10, 15, 20, 25, 30, 35, 40], "title": "Time constant τ [ms]", "titlePadding": 22.6, "ticks": true, "tickSize": -3, "labelPadding": 7}}, "angle": {"field": "ang", "type": "quantitative", "scale": null}}},
    {"data": {"name": "p8a"}, "mark": {"type": "text", "fontSize": 12.5},
     "encoding": {"x": {"field": "lx", "type": "quantitative", "axis": {"orient": "top", "labels": false, "title": ".", "titleFontSize": 2, "titleOpacity": 0, "titleX": -60, "titleY": -10, "titleAlign": "left", "titleBaseline": "top", "titleAngle": 0}},
       "y": {"field": "ly", "type": "quantitative", "axis": {"values": [0, 5, 10, 15, 20, 25, 30, 35, 40], "title": "Time constant τ [ms]", "titlePadding": 22.6, "ticks": true, "tickSize": -3, "labelPadding": 7}}, "text": {"field": "label"}}}
  ]
}
]}
]}
]
}
